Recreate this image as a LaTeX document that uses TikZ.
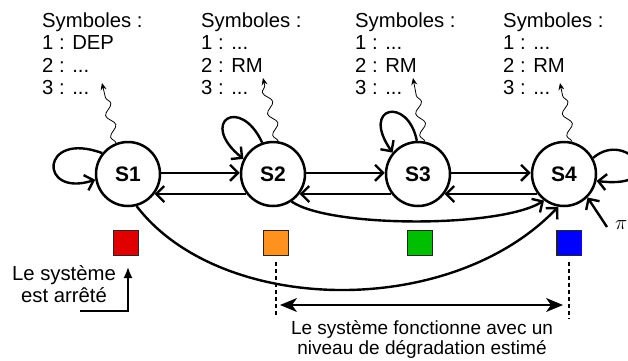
\documentclass[tikz,border=0pt]{standalone}
\usepackage{fontspec}
\setmainfont{Liberation Sans}
\usetikzlibrary{arrows.meta,decorations.pathmorphing}
\definecolor{sqred}{RGB}{225,0,0}
\definecolor{sqorange}{RGB}{255,145,30}
\definecolor{sqgreen}{RGB}{0,190,0}
\definecolor{sqblue}{RGB}{0,0,255}
\newcommand{\mydots}{...}
\begin{document}
\begin{tikzpicture}[x=1pt,y=-1pt,
  state/.style={circle,draw,line width=2.5pt,minimum size=64pt,inner sep=0pt,fill=white,
    font=\fontsize{21}{22}\selectfont\bfseries},
  ed/.style={line width=2.4pt,-{Straight Barb[length=8pt,width=16pt]}},
  snk/.style={line width=0.8pt,decorate,
    decoration={snake,amplitude=4pt,segment length=22pt,post length=7pt},
    -{Stealth[length=7pt,width=6pt]}},
  sym/.style={anchor=base west,inner sep=0pt,font=\fontsize{20.3}{22}\selectfont},
  lbl/.style={anchor=base,inner sep=0pt},
  sq/.style={draw=black!85,line width=1.3pt,minimum size=25pt,inner sep=0pt},
  dsh/.style={line width=1.1pt,dash pattern=on 4pt off 3pt}
]
\useasboundingbox (0,0) rectangle (628,360);
\clip (0,0) rectangle (628,360);

% symbol blocks
\foreach \x/\a/\b/\n in {42/DEP/\mydots/1, 201/\mydots/RM/2, 355/\mydots/RM/3, 503/\mydots/RM/4}{
  \node[sym] (h\n) at (\x,27) {Symboles :};
  \node[sym] (l\n a) at (\x,49.5) {1 : \a};
  \node[sym] (l\n b) at (\x,72) {2 : \b};
  \node[sym] (l\n c) at (\x,94.5) {3 : \mydots};
}

% states
\node[state] (S1) at (128,174) {S1};
\node[state] (S2) at (273,174) {S2};
\node[state] (S3) at (418,174) {S3};
\node[state] (S4) at (564,174) {S4};

% snake arrows
\coordinate (n1) at (102,83);
\coordinate (n2) at (263,78);
\coordinate (n3) at (413,78);
\coordinate (n4) at (560,83);
\draw[snk] (S1.111) -- (n1);
\draw[snk] (S2.81) -- (n2);
\draw[snk] (S3.78) -- (n3);
\draw[snk] (S4.76) -- (n4);

% horizontal transitions
\draw[ed] (S1.2) -- (S2.178);
\draw[ed] (S2.-143) -- (S1.-37);
\draw[ed] (S2.2) -- (S3.178);
\draw[ed] (S3.-143) -- (S2.-37);
\draw[ed] (S3.2) -- (S4.178);
\draw[ed] (S4.-143) -- (S3.-37);

% self loops
\draw[ed] (S1.141) .. controls (40,130) and (38,198) .. (S1.190);
\draw[ed] (S2.109) .. controls (240,95) and (198,122) .. (S2.153);
\draw[ed] (S3.92) .. controls (408,96) and (360,106) .. (S3.140);
\draw[ed] (S4.29) .. controls (628,128) and (672,190) .. (S4.-12);

% long curves
\draw[ed] (S2.-56) .. controls (330,228) and (500,228) .. (S4.-127);
\draw[ed] (S1.-75) .. controls (220,315) and (450,320) .. (S4.-100);

% pi
\node[anchor=base west,inner sep=0pt,font=\fontsize{21}{21}\selectfont] (pi) at (615,229) {$\pi$};
\coordinate (pistart) at (607,227);
\draw[ed] (pistart) -- (S4.-45);

% squares
\node[sq,fill=sqred] (q1) at (126,243) {};
\node[sq,fill=sqorange] (q2) at (276,243) {};
\node[sq,fill=sqgreen] (q3) at (420,243) {};
\node[sq,fill=sqblue] (q4) at (569,243) {};

% dashed markers
\draw[dsh] ([yshift=-6pt]q2.south) -- ++(0,55);
\draw[dsh] ([yshift=-6pt]q4.south) -- ++(0,57);

% double arrow
\coordinate (da) at (280,305);
\coordinate (db) at (563,305);
\draw[line width=1.3pt,{Stealth[length=17pt,width=14pt,inset=5pt]}-{Stealth[length=17pt,width=14pt,inset=5pt]}] (da) -- (db);

% bottom text
\node[lbl,font=\fontsize{19}{20}\selectfont] (bt1) at (422,334) {Le système fonctionne avec un};
\node[lbl,font=\fontsize{19}{20}\selectfont] (bt2) at (422,354) {niveau de dégradation estimé};

% left text
\node[lbl,font=\fontsize{20.3}{22}\selectfont] (lt1) at (64,280) {Le système};
\node[lbl,font=\fontsize{20.3}{22}\selectfont] (lt2) at (64,302) {est arrêté};
\coordinate (ls) at (80,311);
\draw[line width=1.3pt,shorten >=11pt,-{Latex[length=11pt,width=9pt]}] (ls) -| ([xshift=2pt]q1.south);
\end{tikzpicture}
\end{document}
